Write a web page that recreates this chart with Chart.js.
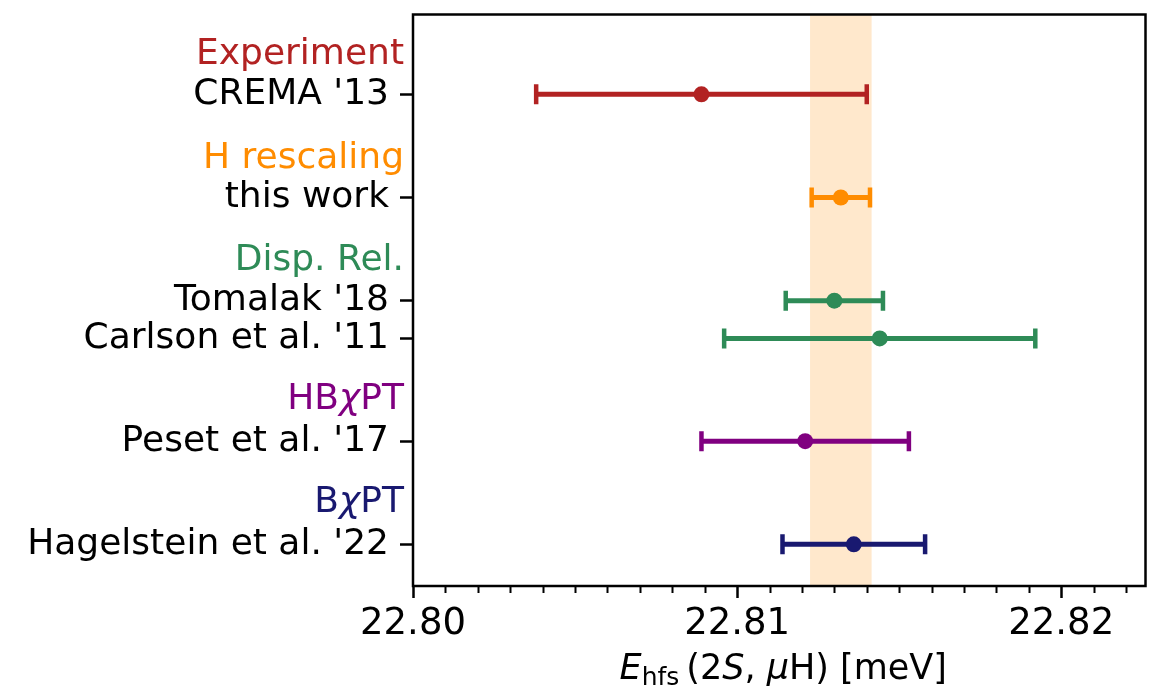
<!DOCTYPE html>
<html>
<head>
<meta charset="utf-8">
<script src="https://cdn.jsdelivr.net/npm/chart.js@4.4.0/dist/chart.umd.min.js"></script>
<style>
    body { margin: 0; background: #fff; }
    canvas { display: block; }
</style>
</head>
<body>
<canvas id="hfs-chart" width="1160" height="691"></canvas>
<script>
// Déterminations de E_hfs(2S) en meV, avec incertitudes
const entryNames = ["CREMA '13", 'this work', "Tomalak '18", "Carlson et al. '11", "Peset et al. '17", "Hagelstein et al. '22"];
const entryValues = [22.8089, 22.8132, 22.8130, 22.8144, 22.8121, 22.8136];
const entryErrors = [0.0051, 0.0009, 0.0015, 0.0048, 0.0032, 0.0022];
const entryRows = [0, 2.65, 5.30, 6.27, 8.91, 11.56];
const entryColors = ['#b22222', '#ff8c00', '#2e8b57', '#2e8b57', '#800080', '#191970'];

// Titres des groupes (au-dessus des lignes)
const groupNames = ['Experiment', 'H rescaling', 'Disp. Rel.', 'HBχPT', 'BχPT'];
const groupRows = [-1.02, 1.64, 4.27, 7.84, 10.49];
const groupColors = ['#b22222', '#ff8c00', '#2e8b57', '#800080', '#191970'];

// Bande verticale (intervalle de "this work")
const bandRange = [22.81225, 22.81415];

// Graduations de l'axe x
const xMajorTicks = [22.80, 22.81, 22.82];
const xMinorStep = 0.001;
const xRange = [22.80, 22.8226];
const yRange = [-2.05, 12.63];

const FONT = "'DejaVu Sans', 'Liberation Sans', sans-serif";

// Dessine un texte composé de plusieurs morceaux (italique, indice...)
function drawRich(ctx, parts, x, y, align) {
    let total = 0;
    parts.forEach(p => {
        ctx.font = p.font;
        p.w = ctx.measureText(p.text).width;
        total += p.w;
    });
    let cx = align === 'right' ? x - total : (align === 'center' ? x - total / 2 : x);
    parts.forEach(p => {
        ctx.font = p.font;
        ctx.fillText(p.text, cx, y + (p.dy || 0));
        cx += p.w;
    });
}

function groupParts(name, size) {
    // le chi est en italique
    const parts = [];
    name.split(/(χ)/).forEach(s => {
        if (!s) return;
        parts.push({ text: s, font: (s === 'χ' ? 'italic ' : '') + size + 'px ' + FONT });
    });
    return parts;
}

const extras = {
    id: 'extras',
    beforeDatasetsDraw(chart) {
        const { ctx, chartArea, scales: { x } } = chart;
        const x0 = x.getPixelForValue(bandRange[0]);
        const x1 = x.getPixelForValue(bandRange[1]);
        ctx.save();
        ctx.fillStyle = 'rgba(255, 140, 0, 0.2)';
        ctx.fillRect(x0, chartArea.top, x1 - x0, chartArea.bottom - chartArea.top);
        ctx.restore();
    },
    afterDraw(chart) {
        const { ctx, chartArea, scales: { x, y } } = chart;
        ctx.save();

        // cadre
        ctx.strokeStyle = '#000';
        ctx.lineWidth = 2.5;
        ctx.strokeRect(chartArea.left, chartArea.top, chartArea.right - chartArea.left, chartArea.bottom - chartArea.top);

        // petites graduations
        ctx.lineWidth = 2;
        ctx.beginPath();
        for (let i = 0; ; i++) {
            const v = xRange[0] + i * xMinorStep;
            if (v > xRange[1] + 1e-9) break;
            if (i % 10 === 0) continue;
            const px = Math.round(x.getPixelForValue(v)) + 0.5;
            ctx.moveTo(px, chartArea.bottom);
            ctx.lineTo(px, chartArea.bottom + 7);
        }
        ctx.stroke();

        // titres des groupes
        ctx.textBaseline = 'middle';
        groupNames.forEach((name, i) => {
            ctx.fillStyle = groupColors[i];
            drawRich(ctx, groupParts(name, 36), chartArea.left - 9, y.getPixelForValue(groupRows[i]), 'right');
        });

        // titre de l'axe x
        ctx.fillStyle = '#000';
        ctx.textBaseline = 'alphabetic';
        const ts = 35;
        drawRich(ctx, [
            { text: 'E', font: 'italic ' + ts + 'px ' + FONT },
            { text: 'hfs', font: Math.round(ts * 0.7) + 'px ' + FONT, dy: 6 },
            { text: '\u2009(2', font: ts + 'px ' + FONT },
            { text: 'S', font: 'italic ' + ts + 'px ' + FONT },
            { text: ', ', font: ts + 'px ' + FONT },
            { text: 'μ', font: 'italic ' + ts + 'px ' + FONT },
            { text: 'H) [meV]', font: ts + 'px ' + FONT }
        ], (chartArea.left + chartArea.right) / 2 + 4, 679, 'center');

        ctx.restore();
    }
};

// Jeux de données : barre d'erreur (avec embouts) + point central
const datasets = [];
entryNames.forEach((name, i) => {
    datasets.push({
        label: name + ' err',
        data: [
            { x: entryValues[i] - entryErrors[i], y: entryRows[i] },
            { x: entryValues[i] + entryErrors[i], y: entryRows[i] }
        ],
        showLine: true,
        borderColor: entryColors[i],
        borderWidth: 5,
        pointStyle: 'line',
        rotation: 90,
        pointRadius: 10,
        pointHoverRadius: 10,
        pointBorderWidth: 4.5,
        pointBorderColor: entryColors[i],
        order: 1
    });
    datasets.push({
        label: name,
        data: [{ x: entryValues[i], y: entryRows[i] }],
        pointRadius: 8,
        pointHoverRadius: 8,
        pointBorderWidth: 0,
        backgroundColor: entryColors[i],
        order: 0
    });
});

const ctx = document.getElementById('hfs-chart').getContext('2d');
const hfsChart = new Chart(ctx, {
    type: 'scatter',
    data: { datasets: datasets },
    plugins: [extras],
    options: {
        responsive: false,
        animation: false,
        devicePixelRatio: 1,
        layout: { padding: { top: 13.5, right: 12, bottom: 0, left: 0 } },
        plugins: { legend: { display: false }, tooltip: { enabled: false } },
        scales: {
            x: {
                type: 'linear',
                min: xRange[0],
                max: xRange[1],
                border: { display: false },
                grid: { drawOnChartArea: false, tickLength: 12, tickWidth: 2.5, tickColor: '#000' },
                ticks: {
                    color: '#000',
                    font: { family: FONT, size: 37 },
                    padding: 4,
                    callback: v => v.toFixed(2)
                },
                afterBuildTicks: scale => { scale.ticks = xMajorTicks.map(v => ({ value: v })); },
                afterFit: scale => {
                    scale.height = 105;
                    scale.paddingLeft = 0;
                    scale.paddingRight = 0;
                }
            },
            y: {
                type: 'linear',
                reverse: true,
                min: yRange[0],
                max: yRange[1],
                border: { display: false },
                grid: { drawOnChartArea: false, tickLength: 13, tickWidth: 2.5, tickColor: '#000' },
                ticks: {
                    color: '#000',
                    font: { family: FONT, size: 36 },
                    padding: 11,
                    callback: (v, i) => entryNames[i]
                },
                afterBuildTicks: scale => { scale.ticks = entryRows.map(v => ({ value: v })); },
                afterFit: scale => {
                    scale.width = 413;
                    scale.paddingTop = 0;
                    scale.paddingBottom = 0;
                }
            }
        }
    }
});
</script>
</body>
</html>
